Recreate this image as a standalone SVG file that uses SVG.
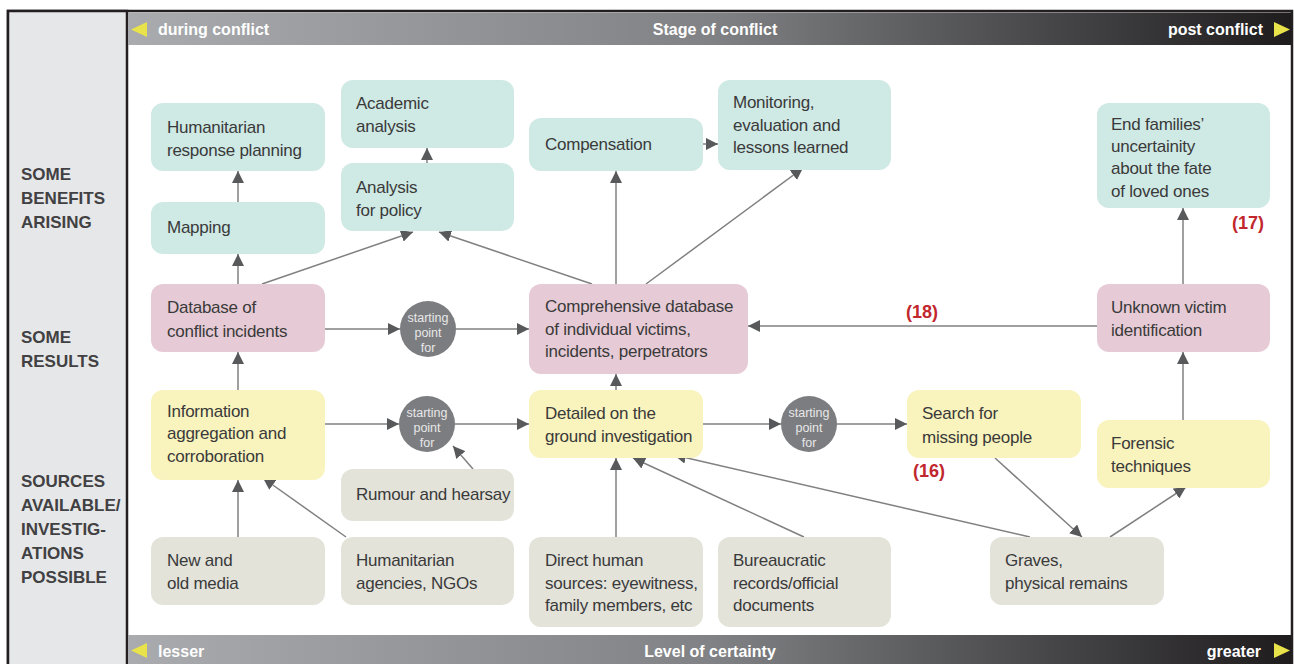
<svg xmlns="http://www.w3.org/2000/svg" width="1294" height="664" viewBox="0 0 1294 664">
<defs>
<linearGradient id="bar" x1="0" y1="0" x2="1" y2="0">
<stop offset="0" stop-color="#a9abae"/>
<stop offset="0.5" stop-color="#818285"/>
<stop offset="0.8" stop-color="#454547"/>
<stop offset="1" stop-color="#1f1c1d"/>
</linearGradient>
<marker id="ah" markerUnits="userSpaceOnUse" markerWidth="12" markerHeight="12" refX="12" refY="6" orient="auto" viewBox="0 0 12 12">
<path d="M0,0 L12,6 L0,12 z" fill="#58595b"/>
</marker>
<style>
.t{font-family:"Liberation Sans",Arial,sans-serif;font-size:17px;letter-spacing:-0.25px;fill:#3a3a3a}
.teal{fill:#cfe9e5}
.pink{fill:#e6cbd6}
.yel{fill:#f9f3bd}
.gry{fill:#e3e3da}
.lbl{font-family:"Liberation Sans",Arial,sans-serif;font-size:17px;font-weight:bold;fill:#414042}
.bar{font-family:"Liberation Sans",Arial,sans-serif;font-size:16px;font-weight:bold;fill:#ffffff}
.red{font-family:"Liberation Sans",Arial,sans-serif;font-size:18px;font-weight:bold;fill:#c1272d}
.ct{font-family:"Liberation Sans",Arial,sans-serif;font-size:12.5px;fill:#e8e8e8;text-anchor:middle}
.circ{fill:#7c7d80}
.c{stroke:#808080;stroke-width:1.5;fill:none;marker-end:url(#ah)}
</style>
</defs>
<rect x="0" y="0" width="1294" height="664" fill="#ffffff"/>
<g id="frame">
<rect x="8" y="11" width="1284" height="660" fill="#ffffff" stroke="#231f20" stroke-width="2.5"/>
<rect x="8" y="11" width="119" height="660" fill="#e6e7e8" stroke="#231f20" stroke-width="2.5"/>
<rect x="128" y="12.5" width="1163" height="32.5" fill="url(#bar)"/>
<rect x="128" y="635" width="1163" height="29" fill="url(#bar)"/>
<polygon points="147,22 131,29.5 147,37" fill="#e8e34a"/>
<polygon points="1274,22 1290,29.5 1274,37" fill="#e8e34a"/>
<polygon points="147,643 131,650.5 147,658" fill="#e8e34a"/>
<polygon points="1274,643 1290,650.5 1274,658" fill="#e8e34a"/>
<text class="bar" x="158" y="35">during conflict</text>
<text class="bar" x="715" y="35" text-anchor="middle">Stage of conflict</text>
<text class="bar" x="1263" y="35" text-anchor="end">post conflict</text>
<text class="bar" x="158" y="657">lesser</text>
<text class="bar" x="710" y="657" text-anchor="middle">Level of certainty</text>
<text class="bar" x="1261" y="657" text-anchor="end">greater</text>
</g>
<g id="row-labels">
<text class="lbl" x="21" y="180">SOME</text>
<text class="lbl" x="21" y="204">BENEFITS</text>
<text class="lbl" x="21" y="228">ARISING</text>
<text class="lbl" x="21" y="343">SOME</text>
<text class="lbl" x="21" y="367">RESULTS</text>
<text class="lbl" x="21" y="487">SOURCES</text>
<text class="lbl" x="21" y="511">AVAILABLE/</text>
<text class="lbl" x="21" y="535">INVESTIG-</text>
<text class="lbl" x="21" y="559">ATIONS</text>
<text class="lbl" x="21" y="583">POSSIBLE</text>
</g>
<g id="connectors">
<line class="c" x1="238" y1="202" x2="238" y2="171"/>
<line class="c" x1="238" y1="284" x2="238" y2="254"/>
<line class="c" x1="238" y1="390" x2="238" y2="352"/>
<line class="c" x1="238" y1="537" x2="238" y2="480"/>
<line class="c" x1="346" y1="537" x2="263" y2="478"/>
<line class="c" x1="473" y1="469" x2="453" y2="446"/>
<line class="c" x1="325" y1="424" x2="399" y2="424"/>
<line class="c" x1="455" y1="424" x2="529" y2="424"/>
<line class="c" x1="325" y1="329" x2="400" y2="329"/>
<line class="c" x1="456" y1="329" x2="529" y2="329"/>
<line class="c" x1="262" y1="284" x2="413" y2="232"/>
<line class="c" x1="592" y1="284" x2="439" y2="232"/>
<line class="c" x1="427" y1="163" x2="427" y2="148"/>
<line class="c" x1="616" y1="284" x2="616" y2="171"/>
<line class="c" x1="646" y1="284" x2="803" y2="168"/>
<line class="c" x1="703" y1="144" x2="718" y2="144"/>
<line class="c" x1="616" y1="390" x2="616" y2="374"/>
<line class="c" x1="703" y1="424" x2="781" y2="424"/>
<line class="c" x1="837" y1="424" x2="907" y2="424"/>
<line class="c" x1="1097" y1="326" x2="748" y2="326"/>
<line class="c" x1="1183" y1="284" x2="1183" y2="208"/>
<line class="c" x1="1183" y1="420" x2="1183" y2="352"/>
<line class="c" x1="1110" y1="537" x2="1186" y2="487"/>
<line class="c" x1="995" y1="458" x2="1082" y2="537"/>
<line class="c" x1="1030" y1="537" x2="674" y2="455"/>
<line class="c" x1="616" y1="537" x2="616" y2="458"/>
<line class="c" x1="804" y1="537" x2="633" y2="458"/>
</g>
<g id="humanitarian-response">
<rect class="teal" x="151" y="103" width="174" height="68" rx="12"/>
<text class="t" x="167" y="133">Humanitarian</text>
<text class="t" x="167" y="156">response planning</text>
</g>
<g id="mapping">
<rect class="teal" x="151" y="202" width="174" height="52" rx="12"/>
<text class="t" x="167" y="233">Mapping</text>
</g>
<g id="academic-analysis">
<rect class="teal" x="341" y="80" width="173" height="68" rx="12"/>
<text class="t" x="356" y="109">Academic</text>
<text class="t" x="356" y="132">analysis</text>
</g>
<g id="analysis-policy">
<rect class="teal" x="341" y="163" width="173" height="68" rx="12"/>
<text class="t" x="356" y="193">Analysis</text>
<text class="t" x="356" y="216">for policy</text>
</g>
<g id="compensation">
<rect class="teal" x="529" y="118" width="174" height="53" rx="12"/>
<text class="t" x="545" y="150">Compensation</text>
</g>
<g id="monitoring">
<rect class="teal" x="718" y="80" width="173" height="90" rx="12"/>
<text class="t" x="733" y="108">Monitoring,</text>
<text class="t" x="733" y="131">evaluation and</text>
<text class="t" x="733" y="153">lessons learned</text>
</g>
<g id="end-uncertainty">
<rect class="teal" x="1097" y="103" width="173" height="105" rx="12"/>
<text class="t" x="1111" y="130">End families’</text>
<text class="t" x="1111" y="152">uncertainity</text>
<text class="t" x="1111" y="174">about the fate</text>
<text class="t" x="1111" y="197">of loved ones</text>
</g>
<g id="db-conflict">
<rect class="pink" x="151" y="284" width="174" height="68" rx="12"/>
<text class="t" x="167" y="313">Database of</text>
<text class="t" x="167" y="337">conflict incidents</text>
</g>
<g id="comprehensive-db">
<rect class="pink" x="529" y="284" width="219" height="90" rx="12"/>
<text class="t" x="545" y="312">Comprehensive database</text>
<text class="t" x="545" y="335">of individual victims,</text>
<text class="t" x="545" y="357">incidents, perpetrators</text>
</g>
<g id="unknown-victim">
<rect class="pink" x="1097" y="284" width="173" height="68" rx="12"/>
<text class="t" x="1111" y="313">Unknown victim</text>
<text class="t" x="1111" y="336">identification</text>
</g>
<g id="info-aggregation">
<rect class="yel" x="151" y="390" width="174" height="90" rx="12"/>
<text class="t" x="167" y="417">Information</text>
<text class="t" x="167" y="439">aggregation and</text>
<text class="t" x="167" y="462">corroboration</text>
</g>
<g id="detailed-investigation">
<rect class="yel" x="529" y="390" width="174" height="68" rx="12"/>
<text class="t" x="545" y="419">Detailed on the</text>
<text class="t" x="545" y="442">ground investigation</text>
</g>
<g id="search-missing">
<rect class="yel" x="907" y="390" width="174" height="68" rx="12"/>
<text class="t" x="922" y="419">Search for</text>
<text class="t" x="922" y="443">missing people</text>
</g>
<g id="forensic">
<rect class="yel" x="1097" y="420" width="173" height="68" rx="12"/>
<text class="t" x="1111" y="449">Forensic</text>
<text class="t" x="1111" y="472">techniques</text>
</g>
<g id="rumour">
<rect class="gry" x="341" y="469" width="173" height="52" rx="12"/>
<text class="t" x="356" y="500">Rumour and hearsay</text>
</g>
<g id="media">
<rect class="gry" x="151" y="537" width="174" height="68" rx="12"/>
<text class="t" x="167" y="566">New and</text>
<text class="t" x="167" y="589">old media</text>
</g>
<g id="agencies">
<rect class="gry" x="341" y="537" width="173" height="68" rx="12"/>
<text class="t" x="356" y="566">Humanitarian</text>
<text class="t" x="356" y="589">agencies, NGOs</text>
</g>
<g id="direct-human">
<rect class="gry" x="529" y="537" width="174" height="90" rx="12"/>
<text class="t" x="545" y="566">Direct human</text>
<text class="t" x="545" y="589">sources: eyewitness,</text>
<text class="t" x="545" y="611">family members, etc</text>
</g>
<g id="bureaucratic">
<rect class="gry" x="718" y="537" width="173" height="90" rx="12"/>
<text class="t" x="733" y="566">Bureaucratic</text>
<text class="t" x="733" y="589">records/official</text>
<text class="t" x="733" y="611">documents</text>
</g>
<g id="graves">
<rect class="gry" x="990" y="537" width="174" height="68" rx="12"/>
<text class="t" x="1005" y="566">Graves,</text>
<text class="t" x="1005" y="589">physical remains</text>
</g>
<g id="start1">
<circle class="circ" cx="428" cy="329" r="28"/>
<text class="ct" x="428" y="322">starting</text>
<text class="ct" x="428" y="337">point</text>
<text class="ct" x="428" y="352">for</text>
</g>
<g id="start2">
<circle class="circ" cx="427" cy="424" r="28"/>
<text class="ct" x="427" y="417">starting</text>
<text class="ct" x="427" y="432">point</text>
<text class="ct" x="427" y="447">for</text>
</g>
<g id="start3">
<circle class="circ" cx="809" cy="424" r="28"/>
<text class="ct" x="809" y="417">starting</text>
<text class="ct" x="809" y="432">point</text>
<text class="ct" x="809" y="447">for</text>
</g>
<g id="refs">
<text class="red" x="922" y="318" text-anchor="middle">(18)</text>
<text class="red" x="1248" y="229" text-anchor="middle">(17)</text>
<text class="red" x="929" y="477" text-anchor="middle">(16)</text>
</g>
</svg>
